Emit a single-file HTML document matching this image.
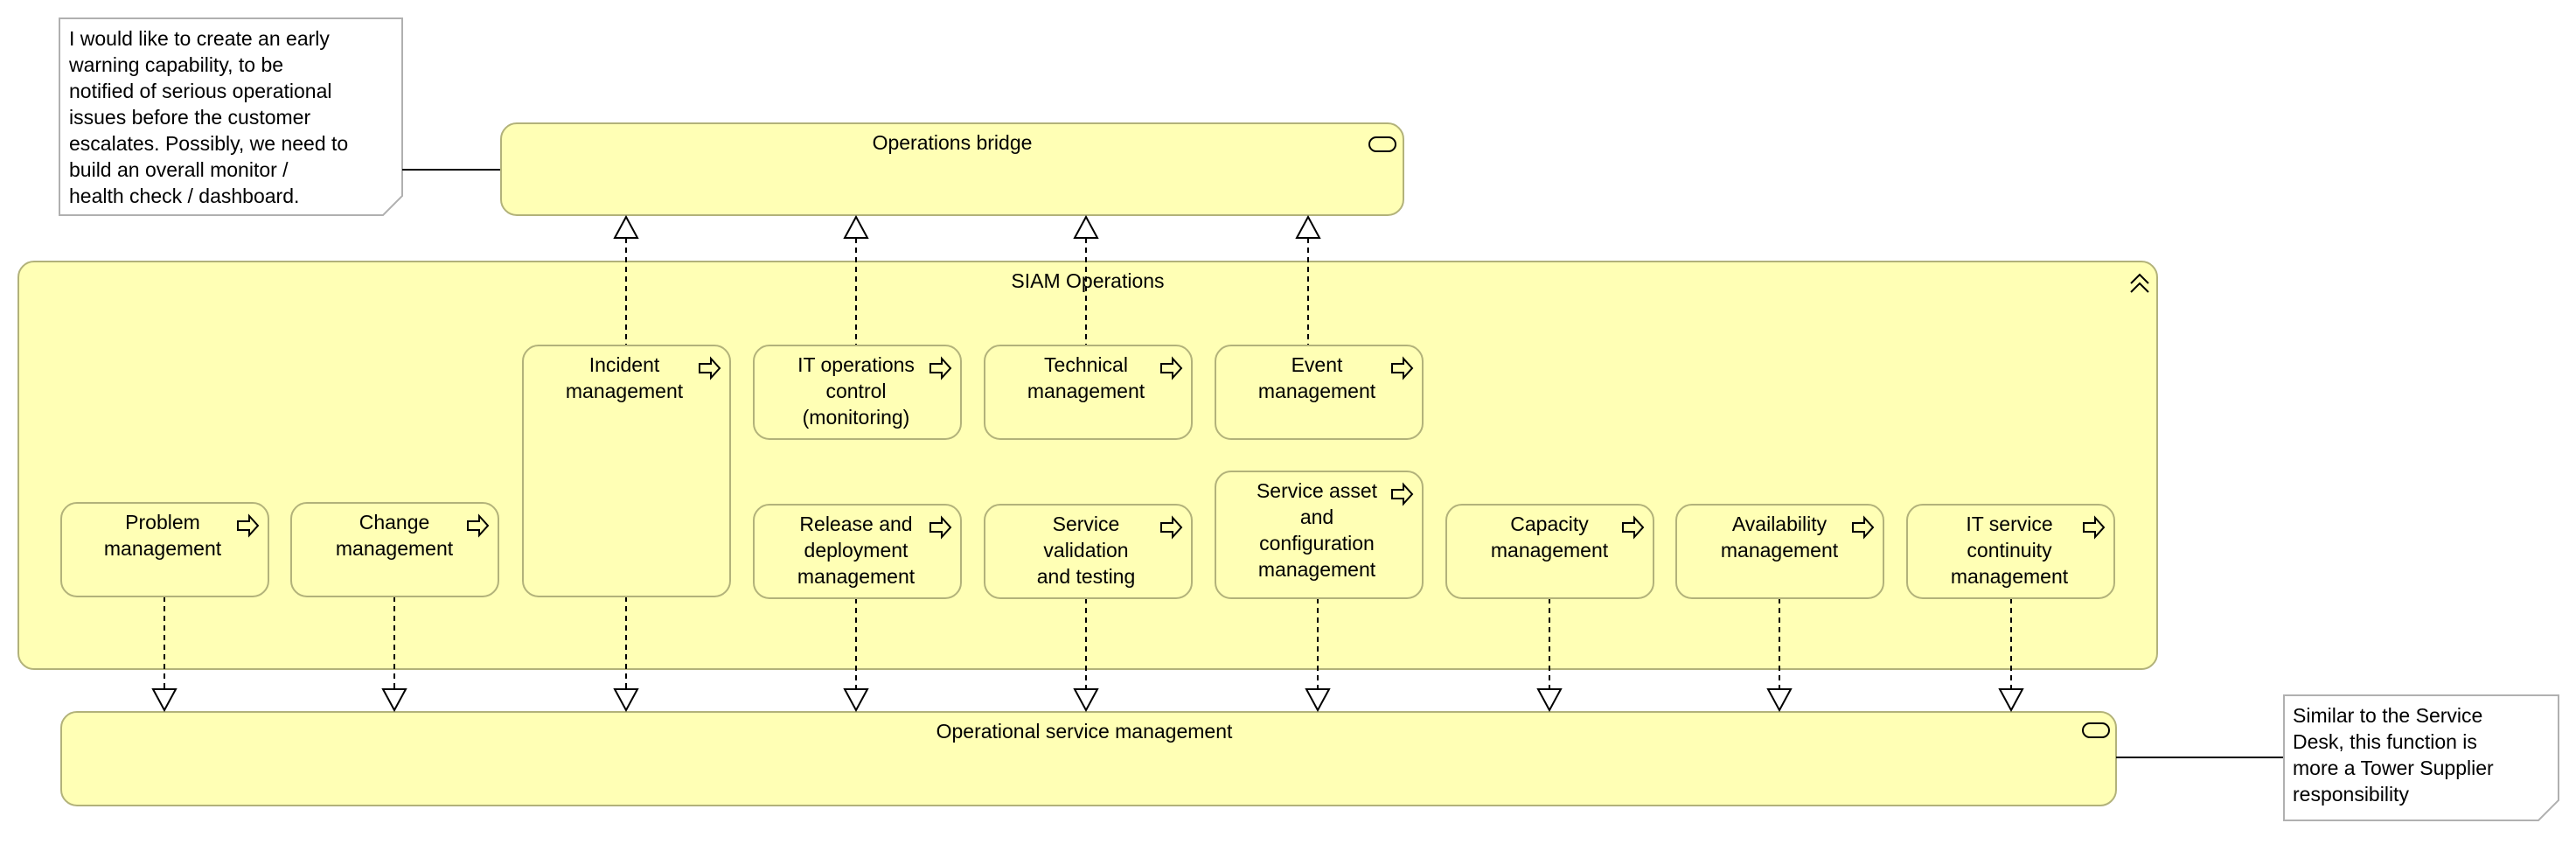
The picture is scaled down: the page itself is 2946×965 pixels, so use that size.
<!DOCTYPE html>
<html><head><meta charset="utf-8"><style>
html,body{margin:0;padding:0;background:#fff;}
svg text{font-family:"Liberation Sans",sans-serif;font-size:23px;fill:#000;}
</style></head><body>
<svg width="2946" height="960" viewBox="0 0 2946 960" xmlns="http://www.w3.org/2000/svg">
<defs>
<g id="fn"><path d="M0,-5 h13 v-6 l10,11 l-10,11 v-6 h-13 z" fill="none" stroke="#000" stroke-width="2"/></g>
</defs>
<path d="M68,21 H460 V224 L438,246 H68 Z" fill="#fff" stroke="#b0b0b0" stroke-width="2"/>
<g>
<text x="79" y="52">I would like to create an early</text>
<text x="79" y="82">warning capability, to be</text>
<text x="79" y="112">notified of serious operational</text>
<text x="79" y="142">issues before the customer</text>
<text x="79" y="172">escalates. Possibly, we need to</text>
<text x="79" y="202">build an overall monitor /</text>
<text x="79" y="232">health check / dashboard.</text>
</g>
<line x1="460" y1="194" x2="573" y2="194" stroke="#000" stroke-width="2"/>
<rect x="573" y="141" width="1032" height="105" rx="18" fill="#ffffb5" stroke="#b2b27a" stroke-width="2"/>
<text x="1089" y="171" text-anchor="middle">Operations bridge</text>
<rect x="1566" y="157" width="30" height="16" rx="8" fill="none" stroke="#000" stroke-width="2"/>
<rect x="21" y="299" width="2446" height="466" rx="18" fill="#ffffb5" stroke="#b2b27a" stroke-width="2"/>
<text x="1244" y="329" text-anchor="middle">SIAM Operations</text>
<path d="M2437,324 l10,-10 l10,10 M2437,334 l10,-10 l10,10" fill="none" stroke="#000" stroke-width="2"/>
<rect x="70" y="814" width="2350" height="107" rx="18" fill="#ffffb5" stroke="#b2b27a" stroke-width="2"/>
<text x="1240" y="844" text-anchor="middle">Operational service management</text>
<rect x="2382" y="827" width="30" height="16" rx="8" fill="none" stroke="#000" stroke-width="2"/>
<line x1="2420" y1="866" x2="2612" y2="866" stroke="#000" stroke-width="2"/>
<path d="M2612,795 H2926 V915 L2903,938 H2612 Z" fill="#fff" stroke="#b0b0b0" stroke-width="2"/>
<text x="2622" y="826">Similar to the Service</text>
<text x="2622" y="856">Desk, this function is</text>
<text x="2622" y="886">more a Tower Supplier</text>
<text x="2622" y="916">responsibility</text>

<g stroke="#000" stroke-width="2" fill="#fff">
<line x1="716" y1="272" x2="716" y2="395" stroke-dasharray="6,5"/>
<line x1="979" y1="272" x2="979" y2="395" stroke-dasharray="6,5"/>
<line x1="1242" y1="272" x2="1242" y2="395" stroke-dasharray="6,5"/>
<line x1="1496" y1="272" x2="1496" y2="395" stroke-dasharray="6,5"/>
<path d="M716,248 l-13,24 h26 z"/>
<path d="M979,248 l-13,24 h26 z"/>
<path d="M1242,248 l-13,24 h26 z"/>
<path d="M1496,248 l-13,24 h26 z"/>
</g>
<g stroke="#000" stroke-width="2" fill="#fff">
<line x1="188" y1="682" x2="188" y2="790" stroke-dasharray="6,5"/>
<line x1="451" y1="682" x2="451" y2="790" stroke-dasharray="6,5"/>
<line x1="716" y1="682" x2="716" y2="790" stroke-dasharray="6,5"/>
<line x1="979" y1="684" x2="979" y2="790" stroke-dasharray="6,5"/>
<line x1="1242" y1="684" x2="1242" y2="790" stroke-dasharray="6,5"/>
<line x1="1507" y1="684" x2="1507" y2="790" stroke-dasharray="6,5"/>
<line x1="1772" y1="684" x2="1772" y2="790" stroke-dasharray="6,5"/>
<line x1="2035" y1="684" x2="2035" y2="790" stroke-dasharray="6,5"/>
<line x1="2300" y1="684" x2="2300" y2="790" stroke-dasharray="6,5"/>
<path d="M188,812 l-13,-24 h26 z"/>
<path d="M451,812 l-13,-24 h26 z"/>
<path d="M716,812 l-13,-24 h26 z"/>
<path d="M979,812 l-13,-24 h26 z"/>
<path d="M1242,812 l-13,-24 h26 z"/>
<path d="M1507,812 l-13,-24 h26 z"/>
<path d="M1772,812 l-13,-24 h26 z"/>
<path d="M2035,812 l-13,-24 h26 z"/>
<path d="M2300,812 l-13,-24 h26 z"/>
</g>

<g fill="#ffffb5" stroke="#b2b27a" stroke-width="2">
<rect x="598" y="395" width="237" height="287" rx="18"/>
<rect x="862" y="395" width="237" height="107" rx="18"/>
<rect x="1126" y="395" width="237" height="107" rx="18"/>
<rect x="1390" y="395" width="237" height="107" rx="18"/>
<rect x="70" y="575" width="237" height="107" rx="18"/>
<rect x="333" y="575" width="237" height="107" rx="18"/>
<rect x="862" y="577" width="237" height="107" rx="18"/>
<rect x="1126" y="577" width="237" height="107" rx="18"/>
<rect x="1390" y="539" width="237" height="145" rx="18"/>
<rect x="1654" y="577" width="237" height="107" rx="18"/>
<rect x="1917" y="577" width="237" height="107" rx="18"/>
<rect x="2181" y="577" width="237" height="107" rx="18"/>
</g>
<g fill="#fff">
<use href="#fn" x="800" y="421"/>
<use href="#fn" x="1064" y="421"/>
<use href="#fn" x="1328" y="421"/>
<use href="#fn" x="1592" y="421"/>
<use href="#fn" x="272" y="601"/>
<use href="#fn" x="535" y="601"/>
<use href="#fn" x="1064" y="603"/>
<use href="#fn" x="1328" y="603"/>
<use href="#fn" x="1592" y="565"/>
<use href="#fn" x="1856" y="603"/>
<use href="#fn" x="2119" y="603"/>
<use href="#fn" x="2383" y="603"/>
</g>
<g text-anchor="middle">
<text x="714" y="425">Incident</text><text x="714" y="455">management</text>
<text x="979" y="425">IT operations</text><text x="979" y="455">control</text><text x="979" y="485">(monitoring)</text>
<text x="1242" y="425">Technical</text><text x="1242" y="455">management</text>
<text x="1506" y="425">Event</text><text x="1506" y="455">management</text>
<text x="186" y="605">Problem</text><text x="186" y="635">management</text>
<text x="451" y="605">Change</text><text x="451" y="635">management</text>
<text x="979" y="607">Release and</text><text x="979" y="637">deployment</text><text x="979" y="667">management</text>
<text x="1242" y="607">Service</text><text x="1242" y="637">validation</text><text x="1242" y="667">and testing</text>
<text x="1506" y="569">Service asset</text><text x="1506" y="599">and</text><text x="1506" y="629">configuration</text><text x="1506" y="659">management</text>
<text x="1772" y="607">Capacity</text><text x="1772" y="637">management</text>
<text x="2035" y="607">Availability</text><text x="2035" y="637">management</text>
<text x="2298" y="607">IT service</text><text x="2298" y="637">continuity</text><text x="2298" y="667">management</text>
</g>
</svg>
</body></html>
